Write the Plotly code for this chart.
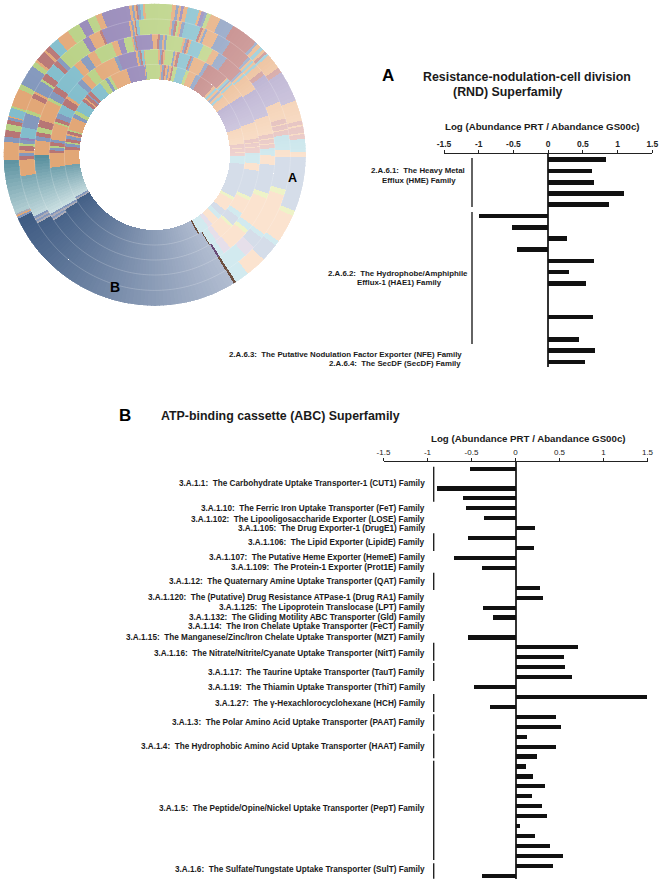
import numpy as np
import plotly.graph_objects as go

# ---------- data: wheel (five rings, inner to outer, clockwise from the top): (family, degrees) ----------
RING1 = [("G",3.6),("O",1.2),("L",1.2),("R",1.2),("O",1.3),("L",1),("O",1.5),("R",1),("G",2.4),("t",6),("G",2),("O",5),("L",3),("R",10),
         ("O",1.5),("t",1.5),("O",1.5),("L",1.5),("O",1.5),("t",1.5),("O",6),("P",17),("O",10),("R",2.5),("O",.5),("R",2.5),("O",.5),("R",2),
         ("t",5),("L",22),("G",2),("O",8),("L",4),("t",3),("O",5),("p",3),("t",7),("k",1),("B",88),("W",1),("L",1),("T",21),("O",10),
         ("R",2),("L",2),("G",1),("R",2),("L",2),("O",1),("R",2),("G",1),("O",8),("L",2.5),("G",2.5),("t",7),("R",2),("O",1),("R",2),("L",1),("R",2),
         ("t",8),("G",4),("L",2),("G",2),("O",10),("O",1),("P",11.5),("O",.5),("L",.5),("G",5.5)]

RING2 = [("G",2),("O",1),("L",1),("R",1),("O",1),("G",4.5),("L",1),("O",1),("R",1.5),("t",6),("R",1),("L",1),("O",1),("O",6),("L",2),("R",12),
         ("O",1),("t",1),("L",1),("O",1),("t",1),("O",8),("P",16),("O",9),("R",2),("O",.5),("R",2),("O",.5),("R",3),("t",6),("O",4),("L",15),("G",2),
         ("O",8),("t",3),("L",5),("G",1.5),("O",8),("p",3),("t",4),("k",.5),("B",89.5),("W",1),("L",1),("T",22.5),("O",8),("R",1.5),("L",1.5),("G",1),
         ("R",2),("L",1.5),("O",1),("O",8),("G",1),("R",2),("L",3),("t",5),("R",4),("O",1.5),("t",9),("L",3),("O",4),("G",5),("O",10),("O",2.5),("L",2),
         ("P",10),("O",1.2),("L",1),("R",1),("t",1.3),("O",.5),("G",5.5)]

RING3 = [("O",1.5),("R",1),("L",1.5),("O",1),("L",1),("G",8),("O",1),("L",1),("R",1),("O",1),("t",6),("G",5),("O",3.5),("L",4.5),("R",9),
         ("L",1),("O",1),("t",1),("O",1),("O",7),("P",14),("O",9),("R",2),("O",.5),("R",2),("O",.5),("R",2),("t",3.5),("O",4.5),("L",14),("G",2.5),
         ("O",14.5),("t",3),("G",2),("O",10),("p",4),("t",2.5),("d",1),("B",88.5),("W",.9),("L",.9),("W",.9),("L",.8),("T",29.5),("O",7),("L",2),("R",2),
         ("G",2.5),("R",3.5),("O",10),("G",1.5),("L",3.5),("R",3),("t",13),("O",4),("L",4),("O",4),("G",9),("O",3),("P",3),("G",4),("O",.7),("L",.7),("R",.6),
         ("P",8),("O",1)]

RING4 = [("G",6.7),("O",1),("L",1),("R",1),("G",1),("O",1),("L",1.3),("t",7),("R",1),("O",1),("L",1),("O",5),("L",6),("R",10),("L",1),("O",1),("t",1),
         ("O",1),("t",1),("O",1),("O",2),("R",2),("P",13),("O",7.5),("R",2),("O",.5),("R",2),("O",.5),("R",2),("t",6.5),("O",3),("L",14),("G",2.5),("O",18.5),
         ("t",2),("L",5),("p",5),("t",9.5),("k",1),("B",91),("W",.8),("L",.8),("W",.8),("L",.9),("T",18),("O",7),("R",1.5),("L",1.5),("O",1),("R",2),("G",1),
         ("L",1.5),("P",1),("t",4.5),("L",6),("G",1.5),("O",5.5),("R",2),("O",1),("L",5),("G",1),("R",3),("t",5),("R",2),("L",2),("G",12),("P",3),("O",5),
         ("R",1),("P",12),("O",1),("L",.8),("O",.7),("R",.5),("t",1.3),("G",6.7)]

RING5 = [("G",6.8),("O",1.5),("L",1),("O",1),("P",1),("O",1.5),("t",4.5),("O",1),("P",1.2),("L",1),("G",1.5),("O",4),("L",5.5),("R",10.5),("L",1),("O",1.5),
         ("t",1.5),("O",1),("R",1),("t",1),("O",1),("O",5),("R",2),("P",12),("O",8),("R",1.5),("O",.7),("R",2.5),("O",.5),("R",1.8),("t",5),("O",2),("L",21),("G",2),
         ("O",11),("t",2),("L",7),("O",8),("t",5.5),("k",1),("B",96.5),("L",.8),("O",.6),("W",.6),("T",21),("O",7),("L",2),("R",2.5),("G",2.5),("R",1.5),("L",1),
         ("O",.5),("t",3.3),("G",.7),("O",7),("G",2),("L",8),("G",2),("O",1),("R",4),("O",1),("R",2),("t",4),("O",5),("G",5),("P",3.5),("G",3.5),("O",2.5),("P",10.8),
         ("O",1),("L",.8),("O",.8),("R",.6),("L",1),("t",1),("O",.9),("G",3.6)]

RINGS = [RING1, RING2, RING3, RING4, RING5]

# ---------- data: panel A ----------
A_VALUES = [0.83, 0.63, 0.66, 1.09, 0.87, -1.0, -0.52, 0.27, -0.45, 0.66, 0.30, 0.55, None, None, 0.65, None, 0.44, 0.68, 0.53]
A_TITLE = ["Resistance-nodulation-cell division", "(RND) Superfamily"]
A_LABELS = ["2.A.6.1:  The Heavy Metal", "Efflux (HME) Family",
            "2.A.6.2:  The Hydrophobe/Amphiphile", "Efflux-1 (HAE1) Family",
            "2.A.6.3:  The Putative Nodulation Factor Exporter (NFE) Family",
            "2.A.6.4:  The SecDF (SecDF) Family"]

# ---------- data: panel B ----------
B_VALUES = [-0.52, None, -0.9, -0.6, -0.57, -0.36, 0.22, -0.54, 0.2, -0.70, -0.39, None, 0.27, 0.31, -0.38, -0.26, None, -0.54,
            0.71, 0.545, 0.557, 0.636, -0.48, 1.49, -0.29, 0.455, 0.51, 0.12, 0.45, 0.24, 0.11, 0.19, 0.33, 0.18, 0.29, 0.35,
            0.04, 0.22, 0.39, 0.53, 0.42, -0.39]
B_TITLE = "ATP-binding cassette (ABC) Superfamily"
B_LABELS = ["3.A.1.1:  The Carbohydrate Uptake Transporter-1 (CUT1) Family",
            "3.A.1.10:  The Ferric Iron Uptake Transporter (FeT) Family",
            "3.A.1.102:  The Lipooligosaccharide Exporter (LOSE) Family",
            "3.A.1.105:  The Drug Exporter-1 (DrugE1) Family",
            "3.A.1.106:  The Lipid Exporter (LipidE) Family",
            "3.A.1.107:  The Putative Heme Exporter (HemeE) Family",
            "3.A.1.109:  The Protein-1 Exporter (Prot1E) Family",
            "3.A.1.12:  The Quaternary Amine Uptake Transporter (QAT) Family",
            "3.A.1.120:  The (Putative) Drug Resistance ATPase-1 (Drug RA1) Family",
            "3.A.1.125:  The Lipoprotein Translocase (LPT) Family",
            "3.A.1.132:  The Gliding Motility ABC Transporter (Gld) Family",
            "3.A.1.14:  The Iron Chelate Uptake Transporter (FeCT) Family",
            "3.A.1.15:  The Manganese/Zinc/Iron Chelate Uptake Transporter (MZT) Family",
            "3.A.1.16:  The Nitrate/Nitrite/Cyanate Uptake Transporter (NitT) Family",
            "3.A.1.17:  The Taurine Uptake Transporter (TauT) Family",
            "3.A.1.19:  The Thiamin Uptake Transporter (ThiT) Family",
            "3.A.1.27:  The \u03b3-Hexachlorocyclohexane (HCH) Family",
            "3.A.1.3:  The Polar Amino Acid Uptake Transporter (PAAT) Family",
            "3.A.1.4:  The Hydrophobic Amino Acid Uptake Transporter (HAAT) Family",
            "3.A.1.5:  The Peptide/Opine/Nickel Uptake Transporter (PepT) Family",
            "3.A.1.6:  The Sulfate/Tungstate Uptake Transporter (SulT) Family"]
AXIS_TITLE = "Log (Abundance PRT / Abandance GS00c)"
TICK_VALUES = [-1.5, -1, -0.5, 0, 0.5, 1, 1.5]
TICK_TEXT = ["-1.5", "-1", "-0.5", "0", "0.5", "1", "1.5"]

# ---------- layout (pixels) ----------
W, H = 661, 884
FONT = "Liberation Sans"
def px(x): return x / W
def py(y): return 1 - y / H

WHEEL_CX, WHEEL_CY, WHEEL_R = 154.7, 154.7, 151.3
RING_EDGES = [75.3, 90.3, 105.3, 120.3, 135.7, 151.3]

A_X = (444, 652.3); A_Y = (154, 367); A_ROW0, A_STEP = 159.7, 11.24
B_X = (383.5, 647.5); B_Y = (461.7, 878.5); B_ROW0, B_STEP = 468.3, 9.93

A_LABEL_Y = [171, 180.7, 273, 282.5, 354.7, 363.5]
A_LABEL_X = [418, 419, 398, 399, 464, 463]
A_LABEL_ANCHOR = ["center", "center", "center", "center", "right", "right"]
A_BRACKETS = [(158, 207), (212, 344)]
A_BRACKET_X = 472

B_LABEL_Y = [483.7, 509, 519, 528.7, 542.3, 557.3, 567, 581.3, 597.3, 607.7, 617.3, 626.7, 637.7,
             653, 672, 687.7, 703, 722.3, 746.3, 808.3, 869.3]
B_LABEL_X = 427
B_BRACKETS = [(466.7, 501.7), (533.3, 551), (572.7, 590), (642.7, 660.7), (663, 681), (694, 712),
              (714.3, 730.7), (733.7, 758.3), (760.7, 860), (863.3, 878.7)]
B_BRACKET_X = 433.7

# ---------- colours: (dark, light) per family ----------
PALETTE = {
    "P": ("#8a7ab0", "#dcd7e8"), "p": ("#cfc8df", "#e6dfea"),
    "G": ("#b0cc7c", "#eef3c8"), "O": ("#dfa06c", "#fbe3cf"),
    "R": ("#b06a6a", "#efd3d0"), "L": ("#7a90b8", "#d5dde9"),
    "t": ("#78b8c8", "#d2eaef"), "B": ("#3d5a82", "#b3bed2"),
    "T": ("#558d9c", "#cfe2e4"), "W": ("#a8a8b4", "#c8c8d0"),
    "k": ("#6e5040", "#6e5040"), "d": ("#6a4c78", "#6a4c78"),
}
def hex2rgb(h): return np.array([int(h[i:i+2], 16) for i in (1, 3, 5)], float)
def shade(fam, a):
    dark, light = PALETTE[fam]
    if fam == "B":
        t = (246 - a) / 98
    elif fam == "T":
        t = (270 - a) / 30
    else:
        t = np.interp(a, [0, 30, 45, 60, 90, 150, 240, 300, 360], [0.3, 0.42, 0.52, 0.72, 1, 1, 0.1, 0.12, 0.3])
    t = float(np.clip(t, 0, 1))
    c = hex2rgb(dark) * (1 - t) + hex2rgb(light) * t
    return "rgb(%d,%d,%d)" % tuple(c)

fig = go.Figure()

# wheel
theta, width, base, radius, colors = [], [], [], [], []
for i, ring in enumerate(RINGS):
    total = sum(v for _, v in ring)
    start = 0.0
    for fam, v in ring:
        v = v * 360 / total
        n = max(1, int(np.ceil(v / 1.5)))
        for k in range(n):
            a = start + v * (k + 0.5) / n
            theta.append(a)
            width.append(v / n + 0.2)
            base.append(RING_EDGES[i])
            radius.append(RING_EDGES[i + 1] - RING_EDGES[i])
            colors.append(shade(fam, a))
        start += v
fig.add_trace(go.Barpolar(theta=theta, width=width, base=base, r=radius,
                          marker=dict(color=colors, line=dict(width=0)),
                          hoverinfo="skip", showlegend=False, subplot="polar"))
# faint separators between rings
sep_theta = np.linspace(0, 360, 361)
for e in RING_EDGES[1:-1]:
    fig.add_trace(go.Scatterpolar(theta=sep_theta, r=[e] * len(sep_theta), mode="lines",
                                  line=dict(color="rgba(255,255,255,0.25)", width=0.8),
                                  hoverinfo="skip", showlegend=False, subplot="polar"))

BAR_COLOR = "#111111"
fig.add_trace(go.Bar(x=A_VALUES, y=list(range(len(A_VALUES))), orientation="h", width=0.42,
                     marker=dict(color=BAR_COLOR, line=dict(width=0)), xaxis="x", yaxis="y", showlegend=False))
fig.add_trace(go.Bar(x=B_VALUES, y=list(range(len(B_VALUES))), orientation="h", width=0.42,
                     marker=dict(color=BAR_COLOR, line=dict(width=0)), xaxis="x2", yaxis="y2", showlegend=False))

def xaxis(rng, anchor, bold):
    return dict(domain=[px(rng[0]), min(px(rng[1]), 1)], range=[-1.5, 1.5], side="top", anchor=anchor,
                tickvals=TICK_VALUES, ticktext=TICK_TEXT, ticks="outside", ticklen=3, tickwidth=1,
                tickcolor="#222", showline=True, linecolor="#222", linewidth=1, showgrid=False,
                zeroline=True, zerolinecolor="#333", zerolinewidth=1.5,
                tickfont=dict(family=FONT, size=8.5 if bold else 8, color="#222", weight="bold" if bold else "normal"))
def yaxis(py_rng, row0, step, anchor):
    return dict(domain=[py(py_rng[1]), py(py_rng[0])],
                range=[(py_rng[1] - row0) / step, (py_rng[0] - row0) / step],
                visible=False, anchor=anchor)

annotations = []
def text(x, y, s, size, anchor="center", weight="bold", color="#1a1a1a"):
    annotations.append(dict(x=px(x), y=py(y), xref="paper", yref="paper", text=s, showarrow=False,
                            xanchor=anchor, yanchor="middle", align=anchor,
                            font=dict(family=FONT, size=size, color=color, weight=weight)))

text(292.5, 178, "A", 12.5, color="#000")
text(114.5, 287, "B", 14, color="#000")
text(388, 75, "A", 17, color="#000")
text(527, 77, A_TITLE[0], 12.4)
text(508, 92, A_TITLE[1], 12.4)
text(542, 127, AXIS_TITLE, 9.7)
for s, x, y, anc in zip(A_LABELS, A_LABEL_X, A_LABEL_Y, A_LABEL_ANCHOR):
    text(x, y, s, 7.85, anchor=anc)

text(125, 415, "B", 17, color="#000")
text(280.5, 416, B_TITLE, 12.4)
text(528, 438, AXIS_TITLE, 9.7)
for s, y in zip(B_LABELS, B_LABEL_Y):
    text(B_LABEL_X, y, s, 8.2, anchor="right")

shapes = []
for (y0, y1), xp in [(b, A_BRACKET_X) for b in A_BRACKETS] + [(b, B_BRACKET_X) for b in B_BRACKETS]:
    shapes.append(dict(type="line", xref="paper", yref="paper", x0=px(xp), x1=px(xp), y0=py(y0), y1=py(y1),
                       line=dict(color="#222", width=1.4)))

fig.update_layout(
    width=W, height=H, margin=dict(l=0, r=0, t=0, b=0, autoexpand=False), paper_bgcolor="white", plot_bgcolor="white",
    showlegend=False, bargap=0,
    polar=dict(domain=dict(x=[(WHEEL_CX - WHEEL_R) / W, (WHEEL_CX + WHEEL_R) / W],
                           y=[py(WHEEL_CY + WHEEL_R), py(WHEEL_CY - WHEEL_R)]),
               bgcolor="rgba(0,0,0,0)", bargap=0, barmode="overlay",
               radialaxis=dict(visible=False, range=[0, WHEEL_R]),
               angularaxis=dict(visible=False, direction="clockwise", rotation=90)),
    xaxis=xaxis(A_X, "y", True), yaxis=yaxis(A_Y, A_ROW0, A_STEP, "x"),
    xaxis2=xaxis(B_X, "y2", False), yaxis2=yaxis(B_Y, B_ROW0, B_STEP, "x2"),
    annotations=annotations, shapes=shapes,
)
fig.write_html("out.html", config=dict(displayModeBar=False), post_script="document.body.style.margin='0';")
